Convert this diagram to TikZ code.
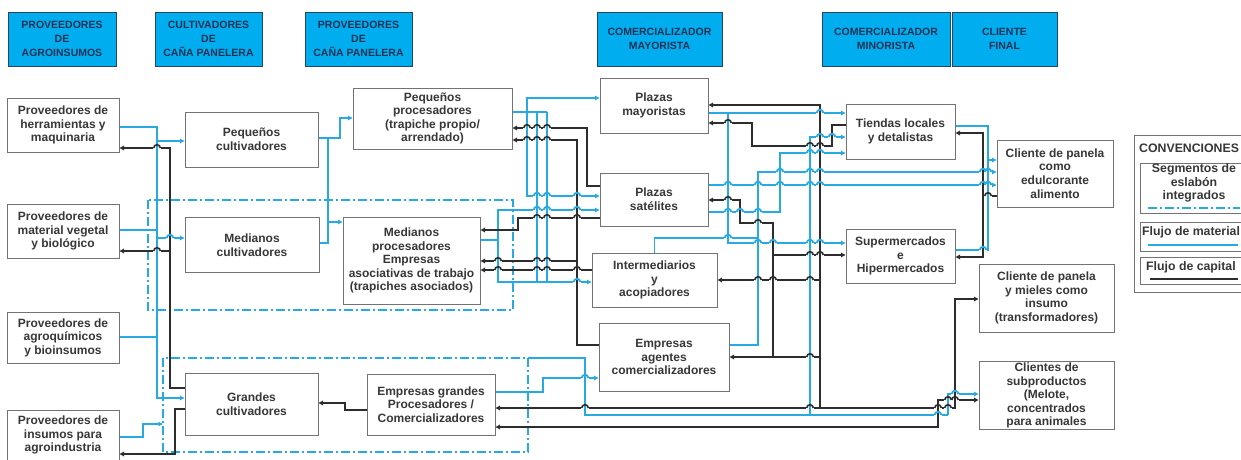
\documentclass[tikz,border=0pt]{standalone}
\usepackage{fontspec}
\setmainfont{Liberation Sans}
\usetikzlibrary{arrows.meta}
\definecolor{cyl}{RGB}{38,170,225}
\definecolor{dkl}{RGB}{45,45,45}
\definecolor{hdrfill}{RGB}{0,174,239}
\definecolor{hdrtxt}{RGB}{28,50,85}
\definecolor{hdrline}{RGB}{40,70,100}
\definecolor{boxline}{RGB}{115,115,115}
\definecolor{boxtxt}{RGB}{55,55,55}
\tikzset{
  hdr/.style={draw=hdrline, line width=0.9pt, fill=hdrfill, text=hdrtxt, font=\fontsize{10.5}{14}\selectfont\bfseries, align=center, inner sep=1pt},
  box/.style={draw=boxline, line width=1pt, fill=white, text=boxtxt, font=\fontsize{12}{13.6}\selectfont\bfseries, align=center, inner sep=1pt},
  lgtxt/.style={text=boxtxt, font=\fontsize{12.3}{13.5}\selectfont\bfseries, align=center, inner sep=0pt},
  cy/.style={draw=cyl, line width=1.8pt},
  bk/.style={draw=dkl, line width=1.6pt},
  arr/.style={-{Triangle[length=4.5pt,width=4.5pt]}},
  barr/.style={{Triangle[length=4.5pt,width=4.5pt]}-{Triangle[length=4.5pt,width=4.5pt]}},
  seg/.style={draw=cyl, line width=2pt, dash pattern=on 9pt off 3pt on 2pt off 3pt},
}
\newcommand{\hopx}[4]{%
  \fill[white] ({#1-3.7},{#2-1.3}) rectangle ({#1+3.7},{#2+1.3});
  \draw[#4] (#1,{#2-2.6}) -- (#1,{#2+2.6});
  \draw[#3] ({#1-3.3},#2) arc[start angle=180,end angle=0,radius=3.3pt];
}
\begin{document}
\begin{tikzpicture}[x=1pt,y=-1pt]
\useasboundingbox[fill=white] (0,0) rectangle (1241,460);

% integrated segments
\draw[seg] (148,200) rectangle (513,310);
\draw[seg] (163,358) rectangle (528,452);

% headers
\node[hdr, minimum width=108pt, minimum height=54pt] (h1) at (62,39) {PROVEEDORES\\DE\\AGROINSUMOS};
\node[hdr, minimum width=107pt, minimum height=54pt] (h2) at (208.5,39) {CULTIVADORES\\DE\\CAÑA PANELERA};
\node[hdr, minimum width=107pt, minimum height=54pt] (h3) at (358.5,39) {PROVEEDORES\\DE\\CAÑA PANELERA};
\node[hdr, minimum width=125pt, minimum height=54pt] (h4) at (659.5,39) {COMERCIALIZADOR\\MAYORISTA};
\node[hdr, minimum width=128pt, minimum height=54pt] (h5) at (886,39) {COMERCIALIZADOR\\MINORISTA};
\node[hdr, minimum width=105pt, minimum height=54pt] (h6) at (1004.5,39) {CLIENTE\\FINAL};

% boxes
\node[box, minimum width=112pt, minimum height=54pt] (A1) at (63,125) {Proveedores de\\herramientas y\\maquinaria};
\node[box, minimum width=112pt, minimum height=54pt] (A2) at (63,231) {Proveedores de\\material vegetal\\y biológico};
\node[box, minimum width=112pt, minimum height=51pt] (A3) at (63,337.5) {Proveedores de\\agroquímicos\\y bioinsumos};
\node[box, minimum width=112pt, minimum height=50pt] (A4) at (63,435) {Proveedores de\\insumos para\\agroindustria};
\node[box, minimum width=133pt, minimum height=55pt] (PC) at (251.5,139.5) {Pequeños\\cultivadores};
\node[box, minimum width=134pt, minimum height=55pt] (MC) at (252,245) {Medianos\\cultivadores};
\node[box, minimum width=133pt, minimum height=62pt] (GC) at (251.5,404) {Grandes\\cultivadores};
\node[box, minimum width=159pt, minimum height=61pt] (PP) at (432.5,118.5) {Pequeños\\procesadores\\(trapiche propio/\\arrendado)};
\node[box, minimum width=137pt, minimum height=87pt] (MP) at (411.5,260.5) {Medianos\\procesadores\\Empresas\\asociativas de trabajo\\(trapiches asociados)};
\node[box, minimum width=128pt, minimum height=61pt] (EG) at (431,404.5) {Empresas grandes\\Procesadores /\\Comercializadores};
\node[box, minimum width=108pt, minimum height=55pt] (PM) at (654,105.5) {Plazas\\mayoristas};
\node[box, minimum width=108pt, minimum height=53pt] (PS) at (654,199.5) {Plazas\\satélites};
\node[box, minimum width=125pt, minimum height=54pt] (IA) at (654.5,280) {Intermediarios\\y\\acopiadores};
\node[box, minimum width=130pt, minimum height=68pt] (EA) at (664,357) {Empresas\\agentes\\comercializadores};
\node[box, minimum width=109pt, minimum height=55pt] (TL) at (900.5,131.5) {Tiendas locales\\y detalistas};
\node[box, minimum width=109pt, minimum height=54pt] (SH) at (900.5,256) {Supermercados\\e\\Hipermercados};
\node[box, minimum width=116pt, minimum height=67pt] (CE) at (1055,173.5) {Cliente de panela\\como\\edulcorante\\alimento};
\node[box, minimum width=135pt, minimum height=68pt] (CI) at (1046.5,298) {Cliente de panela\\y mieles como\\insumo\\(transformadores)};
\node[box, minimum width=135pt, minimum height=67pt] (CS) at (1046.5,395.5) {Clientes de\\subproductos\\(Melote,\\concentrados\\para animales};

% legend
\node[draw=boxline, line width=1pt, minimum width=118pt, minimum height=157pt, anchor=north west, inner sep=0pt] (LG) at (1134,135) {};
\node[lgtxt, anchor=west] (LGt) at (1139,148) {CONVENCIONES};
\node[draw=boxline, line width=1pt, minimum width=112pt, minimum height=50pt, anchor=north west, inner sep=0pt] (L1) at (1140,163) {};
\node[lgtxt] (L1t) at (1194,183) {Segmentos de\\eslabón\\integrados};
\draw[seg] (1148,208) -- (1240,208);
\node[draw=boxline, line width=1pt, minimum width=112pt, minimum height=29pt, anchor=north west, inner sep=0pt] (L2) at (1140,222) {};
\node[lgtxt, anchor=west] (L2t) at (1142,232) {Flujo de material};
\draw[cy, line width=1.6pt] (1148,245) -- (1238,245);
\node[draw=boxline, line width=1pt, minimum width=112pt, minimum height=27pt, anchor=north west, inner sep=0pt] (L3) at (1140,257) {};
\node[lgtxt, anchor=west] (L3t) at (1146,267) {Flujo de capital};
\draw[bk, line width=1.3pt] (1150,279) -- (1238,279);

\coordinate (g2w) at (163,424);
\coordinate (r2c) at (528,358);

% ---------- left part ----------
\draw[cy,arr] (A1.east|-0,127) -| (157,398) -- (GC.west|-0,398);
\draw[cy,arr] (157,141) -- (PC.west|-0,141);
\draw[cy] (A2.east|-0,230) -- (157,230);
\draw[cy,arr] (157,238) -- (MC.west|-0,238);
\draw[cy] (A3.east|-0,337) -- (157,337);
\draw[cy,arr] (A4.east|-0,437) -- (143,437) -- (143,424) -- (g2w);
\draw[bk,arr] (GC.west|-0,388) -| (170,148) -- (A1.east|-0,148);
\draw[bk,arr] (170,251) -- (A2.east|-0,251);
\draw[bk,arr] (GC.west|-0,409) -| (175,454) -- (A4.east|-0,454);

% cultivators -> processors
\draw[cy,arr] (PC.east|-0,138) -- (340,138) -- (340,118) -- (PP.west|-0,118);
\draw[cy] (328,138) -- (328,243) -- (MC.east|-0,243);
\draw[cy,arr] (328,222) -- (MP.west|-0,222);
\draw[bk,arr] (EG.west|-0,410) -- (345,410) -- (345,403) -- (GC.east|-0,403);

% processors -> wholesale
\draw[cy] (PP.east|-0,112) -- (547,112);
\draw[cy,arr] (527,112) -- (527,98) -- (PM.west|-0,98);
\draw[cy,arr] (527,112) -- (527,196) -- (PS.west|-0,196);
\draw[cy] (537,112) -- (537,282);
\draw[cy] (547,112) -- (547,282);
\draw[cy] (MP.east|-0,240) -- (498,240);
\draw[cy,arr] (498,240) -- (498,210) -- (PS.west|-0,210);
\draw[cy,arr] (498,240) -- (498,282) -- (IA.west|-0,282);
\draw[bk,arr] (EA.west|-0,345) -- (577,345) -- (577,140) -- (PP.east|-0,140);
\draw[bk,arr] (577,261) -- (MP.east|-0,261);
\draw[bk,arr] (IA.west|-0,270) -- (MP.east|-0,270);
\draw[bk,arr] (PS.west|-0,186) -- (587,186) -- (587,128) -- (PP.east|-0,128);
\draw[bk,arr] (PS.west|-0,218) -- (518,218) -- (518,230) -- (MP.east|-0,230);

% large integrated group
\draw[cy,arr] (EG.east|-0,392) -- (543,392) -- (543,378) -- (EA.west|-0,378);
\draw[cy] (r2c) -- (585,358) -- (585,415) -- (948,415);
\draw[cy,arr] (948,415) -- (948,394) -- (CS.west|-0,394);
\draw[cy,arr] (810,415) -- (810,137) -- (TL.west|-0,137);
\draw[bk,barr] (EG.east|-0,408) -- (955,408) -- (955,299) -- (CI.west|-0,299);
\draw[bk,barr] (EG.east|-0,427) -- (938,427) -- (938,400) -- (CS.west|-0,400);

% wholesale -> retail
\draw[bk,arr] (820,408) -- (820,105) -- (PM.east|-0,105);
\draw[bk,arr] (820,357) -- (EA.east|-0,357);
\draw[bk,arr] (820,280) -- (IA.east|-0,280);
\draw[bk,arr] (773,357) -- (773,223) -- (740,223) -- (740,200) -- (PS.east|-0,200);
\draw[bk,arr] (773,255) -- (SH.west|-0,255);
\draw[cy,arr] (PM.east|-0,113) -- (TL.west|-0,113);
\draw[cy,arr] (728,113) -- (728,243) -- (SH.west|-0,243);
\draw[bk,arr] (TL.west|-0,125) -- (832,125) -- (832,146) -- (752,146) -- (752,123) -- (PM.east|-0,123);
\draw[cy,arr] (PS.east|-0,185) -- (CE.west|-0,185);
\draw[cy,arr] (IA.north) -- (IA.north|-0,238) -- (758,238) -- (758,172) -- (CE.west|-0,172);
\draw[cy] (EA.east|-0,345) -- (758,345) -- (758,238);
\draw[cy,arr] (PS.east|-0,212) -- (780,212) -- (780,153) -- (TL.west|-0,153);

% retail -> final client
\draw[cy] (TL.east|-0,126) -- (988,126) -- (988,250) -- (SH.east|-0,250);
\draw[cy,arr] (988,160) -- (CE.west|-0,160);
\draw[bk,arr] (CE.west|-0,196) -- (983,196) -- (983,133) -- (TL.east|-0,133);
\draw[bk,arr] (983,196) -- (983,257) -- (SH.east|-0,257);

% line hops
\hopx{157}{148}{bk}{cy}
\hopx{157}{251}{bk}{cy}
\hopx{170}{238}{cy}{bk}
\foreach \xx in {527,537,547} {\hopx{\xx}{140}{bk}{cy} \hopx{\xx}{128}{bk}{cy}}
\hopx{537}{218}{bk}{cy} \hopx{547}{218}{bk}{cy} \hopx{577}{218}{bk}{bk}
\hopx{547}{261}{bk}{cy} \hopx{537}{261}{bk}{cy} \hopx{498}{261}{bk}{cy}
\hopx{577}{270}{bk}{bk} \hopx{547}{270}{bk}{cy} \hopx{537}{270}{bk}{cy} \hopx{498}{270}{bk}{cy}
\hopx{537}{210}{cy}{cy} \hopx{547}{210}{cy}{cy} \hopx{577}{210}{cy}{bk}
\hopx{537}{196}{cy}{cy} \hopx{547}{196}{cy}{cy} \hopx{577}{196}{cy}{bk}
\hopx{577}{282}{cy}{bk}
\hopx{820}{113}{cy}{bk}
\hopx{728}{123}{bk}{cy}
\hopx{820}{137}{cy}{bk} \hopx{832}{137}{cy}{bk}
\hopx{810}{146}{bk}{cy} \hopx{820}{146}{bk}{bk}
\hopx{810}{153}{cy}{cy} \hopx{820}{153}{cy}{bk}
\hopx{780}{172}{cy}{cy} \hopx{810}{172}{cy}{cy} \hopx{820}{172}{cy}{bk} \hopx{983}{172}{cy}{bk} \hopx{988}{172}{cy}{cy}
\hopx{728}{185}{cy}{cy} \hopx{758}{185}{cy}{cy} \hopx{780}{185}{cy}{cy} \hopx{810}{185}{cy}{cy} \hopx{820}{185}{cy}{bk} \hopx{983}{185}{cy}{bk} \hopx{988}{185}{cy}{cy}
\hopx{728}{200}{bk}{cy}
\hopx{728}{212}{cy}{cy} \hopx{740}{212}{cy}{bk} \hopx{758}{212}{cy}{cy}
\hopx{758}{223}{bk}{cy}
\hopx{728}{238}{cy}{cy}
\hopx{758}{243}{cy}{cy} \hopx{773}{243}{cy}{bk} \hopx{810}{243}{cy}{cy} \hopx{820}{243}{cy}{bk}
\hopx{810}{255}{bk}{cy} \hopx{820}{255}{bk}{bk}
\hopx{810}{280}{bk}{cy} \hopx{773}{280}{bk}{bk} \hopx{758}{280}{bk}{cy}
\hopx{810}{357}{bk}{cy}
\hopx{585}{408}{bk}{cy} \hopx{810}{408}{bk}{cy} \hopx{938}{408}{bk}{bk} \hopx{948}{408}{bk}{cy}
\hopx{938}{415}{cy}{bk}
\hopx{948}{400}{bk}{cy} \hopx{955}{400}{bk}{bk}
\hopx{955}{394}{cy}{bk}
\hopx{585}{378}{cy}{cy}
\hopx{983}{250}{cy}{bk}
\hopx{988}{196}{bk}{cy}
\end{tikzpicture}
\end{document}
